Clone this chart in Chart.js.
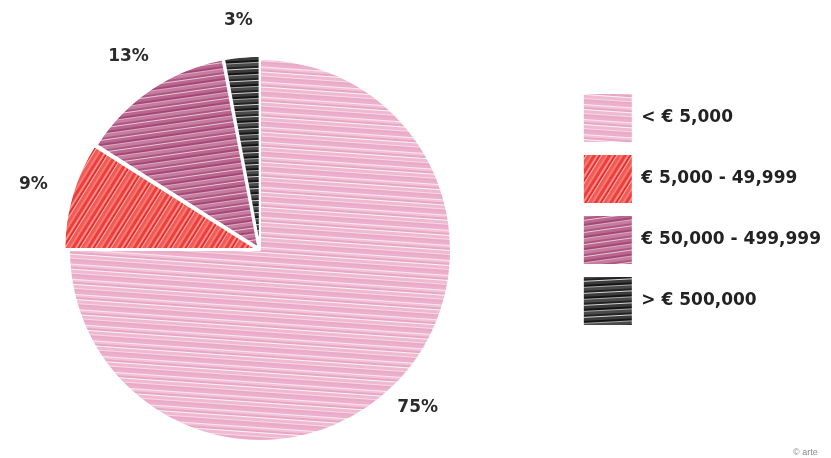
<!DOCTYPE html>
<html><head><meta charset="utf-8">
<script src="https://cdn.jsdelivr.net/npm/chart.js@4.4.1/dist/chart.umd.min.js"></script>
<style>html,body{margin:0;padding:0;background:#fff}</style>
</head><body>
<canvas id="c" width="831" height="458"></canvas>
<script>
// ---- data ----
const categories = ['< € 5,000', '€ 5,000 - 49,999', '€ 50,000 - 499,999', '> € 500,000'];
const shares = [75, 9, 13, 3];
const shareLabels = ['75%', '9%', '13%', '3%'];
const creditText = '© arte';

// ---- styles ----
function hatch(stripes, angle) {
  const total = stripes.reduce((s, x) => s + x[1], 0);
  const c = document.createElement('canvas');
  c.width = 64; c.height = total;
  const g = c.getContext('2d');
  let y = 0;
  for (const [col, h] of stripes) { g.fillStyle = col; g.fillRect(0, y, 64, h); y += h; }
  const p = g.createPattern(c, 'repeat');
  p.setTransform(new DOMMatrix().rotateSelf(angle));
  return p;
}
const pinkFill = hatch([['#ecb0cc',3],['#fae8f0',1],['#f1c2d7',2],['#e8a6c4',2],['#fdf3f7',1],['#eebad2',3],['#f7d8e5',1],['#eaa9c7',2]], 4);
const redFill = hatch([['#ef3d3b',3],['#f6908c',2],['#e62e2d',2],['#f9b4b0',1],['#f15b57',3],['#f47a75',2]], -58);
const purpleFill = hatch([['#b9678f',3],['#a44776',2],['#dca9c2',1],['#c47c9f',3],['#ad5682',2],['#e8c6d6',1]], -8);
const blackFill = hatch([['#3b3b3b',3],['#141414',2],['#a8a8a8',1],['#4a4a4a',3],['#222222',2],['#d5d5d5',1]], -3);
const sliceFills = [pinkFill, redFill, purpleFill, blackFill];
const sliceOffsets = [0, 13, 11, 7];

const labelFont = 'bold 17px "DejaVu Sans", sans-serif';
const pieCenterX = 260;

const placePie = {
  id: 'placePie',
  afterLayout(chart) {
    const a = chart.chartArea;
    const half = Math.min(pieCenterX - 10, (a.right - a.left) / 2);
    a.left = pieCenterX - half;
    a.right = pieCenterX + half;
    a.width = a.right - a.left;
  }
};

const pctLabels = {
  id: 'pctLabels',
  afterDatasetsDraw(chart) {
    const ctx = chart.ctx;
    const meta = chart.getDatasetMeta(0);
    ctx.save();
    ctx.font = labelFont;
    ctx.fillStyle = '#2b2b2b';
    ctx.textAlign = 'center';
    ctx.textBaseline = 'middle';
    meta.data.forEach((arc, i) => {
      const p = arc.getProps(['x', 'y', 'startAngle', 'endAngle', 'outerRadius'], true);
      const mid = (p.startAngle + p.endAngle) / 2;
      const d = p.outerRadius + sliceOffsets[i] + 32;
      ctx.fillText(shareLabels[i], p.x + Math.cos(mid) * d, p.y + Math.sin(mid) * d);
    });
    ctx.font = '9px "Liberation Sans", sans-serif';
    ctx.fillStyle = '#8a8a8a';
    ctx.textAlign = 'left';
    ctx.textBaseline = 'alphabetic';
    ctx.fillText(creditText, 793, 455);
    ctx.restore();
  }
};

new Chart(document.getElementById('c'), {
  type: 'pie',
  data: {
    labels: categories,
    datasets: [{
      data: shares,
      backgroundColor: sliceFills,
      borderColor: '#ffffff',
      borderWidth: 2,
      offset: sliceOffsets,
      radius: 191
    }]
  },
  options: {
    responsive: false,
    animation: false,
    layout: { padding: { left: 0, right: 0, top: 42, bottom: 0 } },
    plugins: {
      tooltip: { enabled: false },
      legend: {
        position: 'right',
        align: 'start',
        title: { display: true, text: '', padding: { top: 25.6, bottom: 0 } },
        labels: {
          boxWidth: 50,
          boxHeight: 50,
          padding: 11,
          color: '#222222',
          font: { family: '"DejaVu Sans", sans-serif', weight: 'bold', size: 17 }
        }
      }
    }
  },
  plugins: [placePie, pctLabels]
});
</script>
</body></html>
